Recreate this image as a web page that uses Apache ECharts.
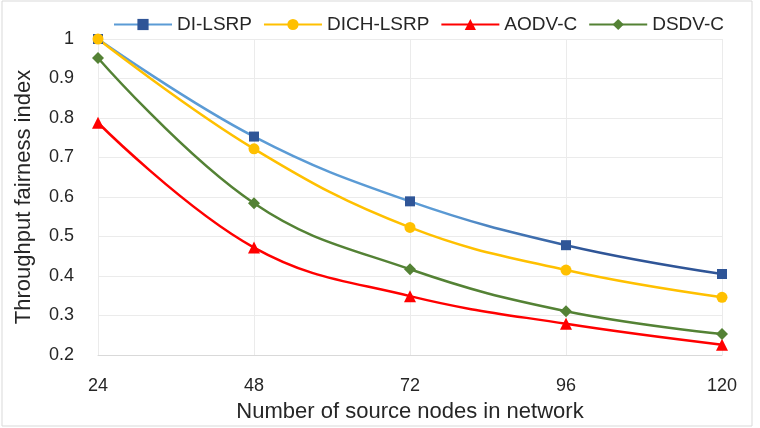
<!DOCTYPE html>
<html>
<head>
<meta charset="utf-8">
<script src="https://cdn.jsdelivr.net/npm/echarts@6/dist/echarts.min.js"></script>
<style>
  html, body { margin: 0; padding: 0; background: #fff; }
  #chart { width: 760px; height: 428px; }
</style>
</head>
<body>
<div id="chart"></div>
<script>
const nodeCounts = ['24', '48', '72', '96', '120']
const yTicks = [0.2, 1, 0.1]

const diLsrp = [1.0, 0.753, 0.589, 0.478, 0.405]
const dichLsrp = [1.0, 0.722, 0.523, 0.415, 0.346]
const aodvC = [0.788, 0.472, 0.349, 0.279, 0.226]
const dsdvC = [0.952, 0.584, 0.417, 0.311, 0.253]

const font = 'Liberation Sans'

const myChart = echarts.init(document.getElementById('chart'))

const makeSeries = (name, data, lineColor, markColor, symbol, size) => {
  return {
    name: name,
    type: 'line',
    smooth: 0.4,
    data: data,
    symbol: symbol,
    symbolSize: size,
    lineStyle: { color: lineColor, width: 2.5 },
    itemStyle: { color: markColor },
    emphasis: { disabled: true }
  }
}

const option = {
  animation: false,
  graphic: [
    {
      type: 'rect',
      shape: { x: 2, y: 1, width: 750, height: 425 },
      style: { fill: 'none', stroke: '#d9d9d9', lineWidth: 1 },
      silent: true
    }
  ],
  legend: {
    left: 108,
    top: 10,
    itemWidth: 58,
    itemHeight: 14,
    itemGap: 11,
    textStyle: { fontFamily: font, fontSize: 19, color: '#262626' },
    data: [
      { name: 'DI-LSRP', lineStyle: { color: '#5B9BD5' } },
      { name: 'DICH-LSRP' },
      { name: 'AODV-C' },
      { name: 'DSDV-C' }
    ]
  },
  grid: {
    left: 98,
    right: 38,
    top: 39,
    bottom: 72
  },
  xAxis: {
    type: 'category',
    boundaryGap: false,
    data: nodeCounts,
    name: 'Number of source nodes in network',
    nameLocation: 'middle',
    nameGap: 46,
    nameTextStyle: { fontFamily: font, fontSize: 22, color: '#262626' },
    axisLine: { lineStyle: { color: '#d9d9d9' } },
    axisTick: { show: false },
    axisLabel: { fontFamily: font, fontSize: 18, color: '#262626', margin: 22 },
    splitLine: { show: true, lineStyle: { color: '#ebebeb' } }
  },
  yAxis: {
    type: 'value',
    min: yTicks[0],
    max: yTicks[1],
    interval: yTicks[2],
    name: 'Throughput fairness index',
    nameLocation: 'middle',
    nameGap: 63,
    nameTextStyle: { fontFamily: font, fontSize: 22, color: '#262626' },
    axisLine: { show: false },
    axisTick: { show: false },
    axisLabel: {
      fontFamily: font,
      fontSize: 18,
      color: '#262626',
      margin: 24,
      formatter: (v) => String(Math.round(v * 10) / 10)
    },
    splitLine: { lineStyle: { color: '#ebebeb' } }
  },
  series: [
    makeSeries('DI-LSRP', diLsrp, {
      type: 'linear', x: 0, y: 0, x2: 1, y2: 0,
      colorStops: [
        { offset: 0, color: '#5B9BD5' },
        { offset: 0.55, color: '#5B9BD5' },
        { offset: 0.78, color: '#2F5597' },
        { offset: 1, color: '#2F5597' }
      ]
    }, '#2F5597', 'rect', 10),
    makeSeries('DICH-LSRP', dichLsrp, '#FFC000', '#FFC000', 'circle', 11),
    makeSeries('AODV-C', aodvC, '#FF0000', '#FF0000', 'triangle', 12),
    makeSeries('DSDV-C', dsdvC, '#548235', '#548235', 'diamond', 12)
  ]
}

myChart.setOption(option)
</script>
</body>
</html>
